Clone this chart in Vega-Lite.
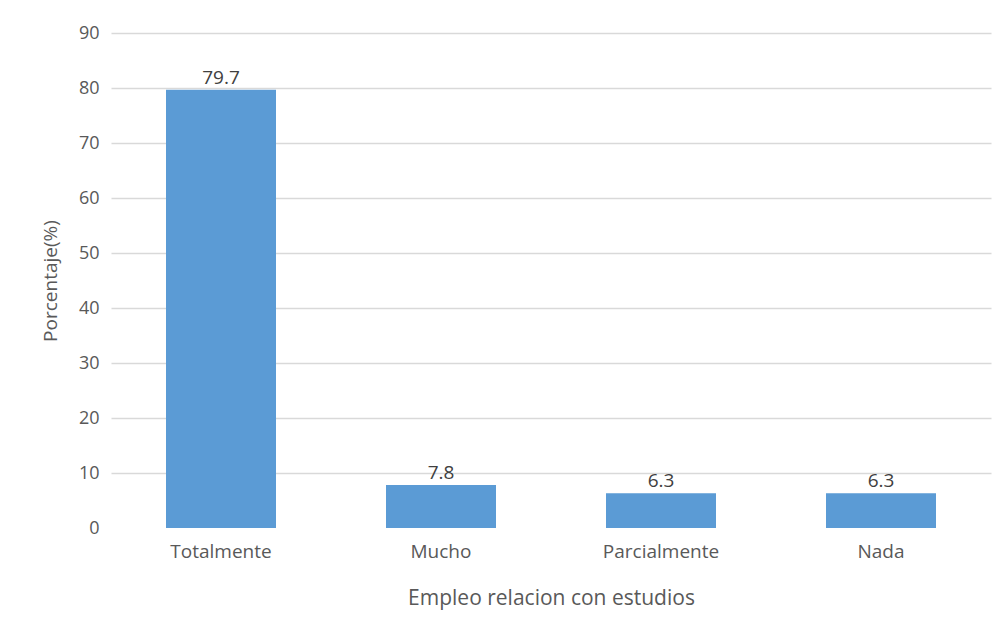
{
  "$schema": "https://vega.github.io/schema/vega-lite/v6.json",
  "width": 880,
  "height": 495,
  "autosize": {"type": "none"},
  "padding": {"left": 111, "top": 33, "right": 9, "bottom": 103},
  "background": "white",
  "config": {"view": {"stroke": null}, "font": "Open Sans"},
  "data": {"values": [
    {"cat": "Totalmente", "pct": 79.7},
    {"cat": "Mucho", "pct": 7.8},
    {"cat": "Parcialmente", "pct": 6.3},
    {"cat": "Nada", "pct": 6.3}
  ]},
  "encoding": {
    "x": {"field": "cat", "type": "nominal", "sort": null,
      "scale": {"paddingInner": 0.5, "paddingOuter": 0.25},
      "axis": {"title": "Empleo relacion con estudios", "labelAngle": 0, "domain": false, "ticks": false,
        "labelFontSize": 19, "labelColor": "#595959", "labelPadding": 14,
        "titleFontSize": 21, "titleFontWeight": "normal", "titleColor": "#595959", "titlePadding": 26}},
    "y": {"field": "pct", "type": "quantitative",
      "scale": {"domain": [0, 90]},
      "axis": {"title": "Porcentaje(%)", "values": [0,10,20,30,40,50,60,70,80,90],
        "labelOverlap": false, "domain": false, "ticks": false, "labelFontSize": 18, "labelColor": "#595959", "labelPadding": 12,
        "gridColor": "#d9d9d9", "gridWidth": 1.3,
        "gridOpacity": {"condition": {"test": "datum.value === 0", "value": 0}, "value": 1},
        "titleFontSize": 19, "titleFontWeight": "normal", "titleColor": "#595959", "titlePadding": 18}}
  },
  "layer": [
    {"mark": {"type": "bar", "color": "#5B9BD5"}},
    {"mark": {"type": "text", "baseline": "bottom", "dy": -2, "fontSize": 19, "color": "#404040"},
     "encoding": {"text": {"field": "pct", "type": "quantitative", "format": ".1f"}}}
  ]
}
